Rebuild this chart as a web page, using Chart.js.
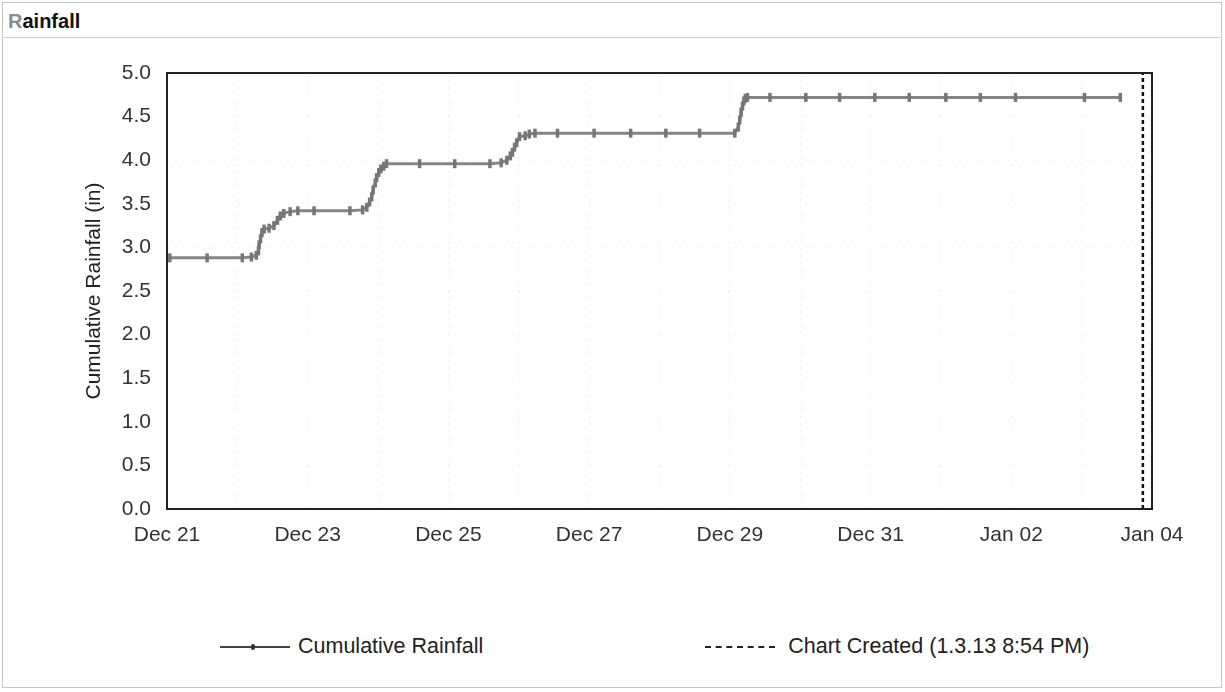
<!DOCTYPE html>
<html>
<head>
<meta charset="utf-8">
<title>Rainfall</title>
<script src="https://cdn.jsdelivr.net/npm/chart.js@4.4.0/dist/chart.umd.min.js"></script>
<style>
  body { margin: 0; background: #fff; font-family: "Liberation Sans", Arial, sans-serif; }
  #frame { position: absolute; left: 2px; top: 2px; width: 1218px; height: 684px; border: 1px solid #c4c4c4; }
  #title-bar { position: absolute; left: 3px; top: 3px; width: 1218px; height: 34px; border-bottom: 1px solid #d4d4d4; }
  #title { position: absolute; left: 5px; top: 7px; font-size: 20px; font-weight: bold; color: #111; }
  #title .first { color: #8a8a8a; }
  #chart-wrap { position: absolute; left: 0; top: 42px; width: 1225px; height: 560px; }
  #legend { position: absolute; left: 220px; top: 634px; display: flex; align-items: center; gap: 222px; }
  .lg-item { display: flex; align-items: center; font-size: 21.5px; color: #222; }
  .lg-sample { position: relative; width: 70px; height: 0; margin-right: 8px; }
  .lg-solid { border-top: 2px solid #444; }
  .lg-solid::after { content: ""; position: absolute; left: 31px; top: -4px; width: 4px; height: 6px; border-radius: 2px; background: #333; }
  .lg-dashed { border-top: 2px dashed #222; margin-right: 13px; }
</style>
</head>
<body>
<div id="frame"></div>
<div id="title-bar"><div id="title"><span class="first">R</span>ainfall</div></div>
<div id="chart-wrap"><canvas id="rainChart"></canvas></div>
<div id="legend"></div>

<script>
// days since Dec 21 00:00
const rainDays = [
  0.04, 0.57, 1.07, 1.20, 1.27, 1.30, 1.31, 1.33, 1.35, 1.38, 1.45, 1.52, 1.57, 1.61, 1.66, 1.75,
  1.86, 2.09, 2.60, 2.78, 2.84, 2.88, 2.91, 2.93, 2.96, 2.98, 3.01, 3.04, 3.08, 3.12, 3.59, 4.09,
  4.59, 4.75, 4.83, 4.88, 4.91, 4.94, 4.97, 5.01, 5.09, 5.15, 5.23, 5.55, 6.07, 6.59, 7.09, 7.57,
  8.07, 8.12, 8.14, 8.16, 8.18, 8.20, 8.22, 8.25, 8.57, 9.08, 9.56, 10.06, 10.55, 11.07, 11.56,
  12.06, 13.04, 13.55
];
const rainTotals = [
  2.88, 2.88, 2.88, 2.89, 2.91, 2.96, 3.03, 3.10, 3.17, 3.21, 3.22, 3.25, 3.31, 3.36, 3.39, 3.41,
  3.42, 3.42, 3.42, 3.43, 3.46, 3.52, 3.58, 3.66, 3.74, 3.80, 3.86, 3.90, 3.93, 3.96, 3.96, 3.96,
  3.96, 3.97, 4.00, 4.05, 4.09, 4.15, 4.20, 4.27, 4.28, 4.30, 4.31, 4.31, 4.31, 4.31, 4.31, 4.31,
  4.31, 4.38, 4.46, 4.55, 4.62, 4.68, 4.71, 4.72, 4.72, 4.72, 4.72, 4.72, 4.72, 4.72, 4.72,
  4.72, 4.72, 4.72
];
// Jan 03 8:54 PM
const createdDays = [13.87, 13.87];
const createdValues = [0, 5];

const tickLabels = ["Dec 21", "Dec 23", "Dec 25", "Dec 27", "Dec 29", "Dec 31", "Jan 02", "Jan 04"];
const seriesLabels = ["Cumulative Rainfall", "Chart Created (1.3.13 8:54 PM)"];

const FONT = "'Liberation Sans', Arial, sans-serif";

const plotFrame = {
  id: "plotFrame",
  afterDatasetsDraw(chart) {
    const a = chart.chartArea;
    const ctx = chart.ctx;
    ctx.save();
    ctx.strokeStyle = "#222";
    ctx.lineWidth = 2;
    ctx.strokeRect(a.left, a.top, a.right - a.left, a.bottom - a.top);
    ctx.restore();
  }
};

function renderLegend() {
  const root = document.getElementById("legend");
  root.innerHTML = "";
  const styles = ["lg-solid", "lg-dashed"];
  seriesLabels.forEach((label, i) => {
    const item = document.createElement("div");
    item.className = "lg-item";
    const sample = document.createElement("span");
    sample.className = "lg-sample " + styles[i];
    const text = document.createElement("span");
    text.textContent = label;
    item.appendChild(sample);
    item.appendChild(text);
    root.appendChild(item);
  });
}

function renderChart() {
  const ctx = document.getElementById("rainChart").getContext("2d");

  new Chart(ctx, {
    type: "line",
    data: {
      datasets: [
        {
          label: seriesLabels[0],
          data: rainDays.map((d, i) => ({ x: d, y: rainTotals[i] })),
          borderColor: "#858585",
          borderWidth: 3,
          tension: 0,
          fill: false,
          pointStyle: "line",
          rotation: 90,
          pointRadius: 4.5,
          pointBorderWidth: 3.5,
          pointBorderColor: "#767676",
          pointBackgroundColor: "#767676"
        },
        {
          label: seriesLabels[1],
          data: createdDays.map((d, i) => ({ x: d, y: createdValues[i] })),
          borderColor: "#111",
          borderWidth: 2.5,
          borderDash: [4, 3],
          pointRadius: 0,
          fill: false
        }
      ]
    },
    options: {
      responsive: true,
      maintainAspectRatio: false,
      animation: false,
      layout: { padding: { left: 78, top: 31, right: 73, bottom: 0 } },
      plugins: {
        legend: { display: false },
        tooltip: { enabled: false }
      },
      scales: {
        x: {
          type: "linear",
          min: 0,
          max: 14,
          afterFit: (scale) => { scale.height = 93; },
          ticks: {
            stepSize: 1,
            autoSkip: false,
            maxRotation: 0,
            padding: 14,
            color: "#333",
            font: { family: FONT, size: 21 },
            callback: (v) => (v % 2 === 0 ? tickLabels[v / 2] : "")
          },
          grid: { color: "rgba(0,0,0,0.07)", drawTicks: false },
          border: { color: "#222", width: 2, dash: [2, 5] }
        },
        y: {
          min: 0,
          max: 5,
          afterFit: (scale) => { scale.width = 89; },
          title: {
            display: true,
            text: "Cumulative Rainfall (in)",
            color: "#222",
            font: { family: FONT, size: 21 }
          },
          ticks: {
            stepSize: 0.5,
            padding: 16,
            color: "#333",
            font: { family: FONT, size: 21 },
            callback: (v) => v.toFixed(1)
          },
          grid: { color: "rgba(0,0,0,0.05)", drawTicks: false },
          border: { color: "#222", width: 2, dash: [2, 5] }
        }
      }
    },
    plugins: [plotFrame]
  });
}

renderLegend();
renderChart();
</script>
</body>
</html>
